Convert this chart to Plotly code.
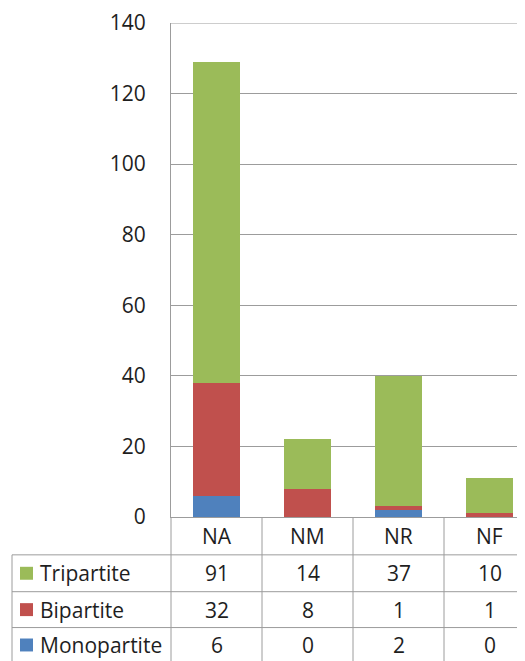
import plotly.graph_objects as go

categories = ["NA", "NM", "NR", "NF"]
series_names = ["Monopartite", "Bipartite", "Tripartite"]
monopartite = [6, 0, 2, 0]
bipartite = [32, 8, 1, 1]
tripartite = [91, 14, 37, 10]
series_values = [monopartite, bipartite, tripartite]
series_colors = ["#4F81BD", "#C0504D", "#9BBB59"]
y_ticks = [0, 20, 40, 60, 80, 100, 120, 140]

# page is 525x661; the browser body adds an 8px margin, so the figure is 8px smaller
PAGE_W, PAGE_H = 525, 661
OFF = 8
W, H = PAGE_W - OFF, PAGE_H - OFF
PLOT_L, PLOT_T, PLOT_B = 171, 21, 517   # page pixels
L, T, B, R = PLOT_L - OFF, PLOT_T - OFF, PAGE_H - PLOT_B, 0
PW = W - L - R
PH = H - T - B
CAT_W = 91.0

def px2x(px):
    return (px - PLOT_L) / PW

def py2y(py):
    return (PLOT_B - py) / PH

fig = go.Figure()
for name, vals, col in zip(series_names, series_values, series_colors):
    fig.add_trace(go.Bar(x=categories, y=vals, name=name, marker_color=col,
                         marker_line_width=0, width=0.52))

grid = "#9c9c9c"
text_col = "#1e1e1e"
font = "Open Sans"
fsize = 21

shapes = []
annotations = []

row_lines = [555, 592, 628]
header_center = 536
row_centers = [573.5, 610, 645.5]  # Tripartite, Bipartite, Monopartite
table_left = 12
bottom = PAGE_H + 5

# top border of plot area (gridline at max)
shapes.append(dict(type="line", xref="paper", yref="y", x0=0, x1=1,
                   y0=y_ticks[-1], y1=y_ticks[-1], line=dict(color=grid, width=1), layer="below"))

for yl in row_lines:
    shapes.append(dict(type="line", xref="paper", yref="paper",
                       x0=px2x(table_left), x1=1, y0=py2y(yl), y1=py2y(yl),
                       line=dict(color=grid, width=1)))
shapes.append(dict(type="line", xref="paper", yref="paper",
                   x0=px2x(table_left), x1=px2x(table_left), y0=py2y(row_lines[0]), y1=py2y(bottom),
                   line=dict(color=grid, width=1)))
shapes.append(dict(type="line", xref="paper", yref="paper",
                   x0=0, x1=0, y0=0, y1=py2y(bottom),
                   line=dict(color=grid, width=1)))
for i in range(len(categories)):
    shapes.append(dict(type="line", xref="x", yref="paper",
                       x0=i + 0.5, x1=i + 0.5, y0=0, y1=py2y(bottom),
                       line=dict(color=grid, width=1)))

for c in categories:
    annotations.append(dict(x=c, y=py2y(header_center), xref="x", yref="paper",
                            text=c, showarrow=False, xanchor="center", yanchor="middle",
                            font=dict(family=font, size=fsize, color=text_col)))

order = [2, 1, 0]
for rc, si in zip(row_centers, order):
    shapes.append(dict(type="rect", xref="paper", yref="paper",
                       x0=px2x(20), x1=px2x(33), y0=py2y(rc + 6.5), y1=py2y(rc - 6.5),
                       fillcolor=series_colors[si], line=dict(width=0)))
    annotations.append(dict(x=px2x(38), y=py2y(rc), xref="paper", yref="paper",
                            text=series_names[si], showarrow=False, xanchor="left", yanchor="middle",
                            font=dict(family=font, size=fsize, color=text_col)))
    for c, v in zip(categories, series_values[si]):
        annotations.append(dict(x=c, y=py2y(rc), xref="x", yref="paper",
                                text=str(v), showarrow=False, xanchor="center", yanchor="middle",
                                font=dict(family=font, size=fsize, color=text_col)))

fig.update_layout(
    width=W, height=H,
    margin=dict(l=L, r=R, t=T, b=B, pad=0),
    barmode="stack",
    showlegend=False,
    plot_bgcolor="white",
    paper_bgcolor="white",
    shapes=shapes,
    annotations=annotations,
    xaxis=dict(range=[-0.5, -0.5 + PW / CAT_W], showticklabels=False, showgrid=False,
               zeroline=False, showline=True, linecolor=grid, linewidth=1, ticks=""),
    yaxis=dict(range=[0, 140], tickvals=y_ticks, showgrid=True, gridcolor=grid, gridwidth=1,
               zeroline=False, showline=True, linecolor=grid, linewidth=1, ticks="",
               ticklabelstandoff=20, ticklabeloverflow="allow",
               tickfont=dict(family=font, size=fsize, color=text_col)),
)

fig.write_html("out.html")
